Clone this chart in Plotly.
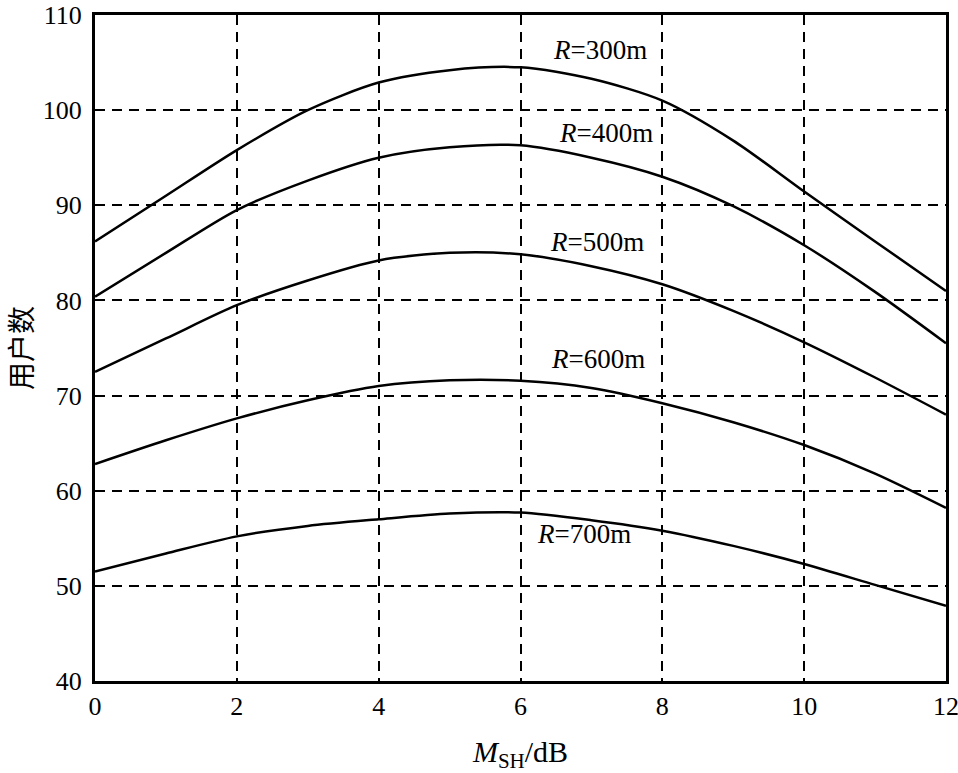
import plotly.graph_objects as go

# Data
x_vals = [0, 1, 2, 3, 4, 5, 6, 7, 8, 9, 10, 11, 12]
r300 = [86.2, 91.0, 95.8, 100.0, 102.9, 104.2, 104.5, 103.3, 101.0, 96.8, 91.45, 86.2, 81.0]
r400 = [80.4, 85.0, 89.5, 92.6, 95.0, 96.1, 96.3, 95.0, 93.0, 89.9, 85.8, 80.9, 75.5]
r500 = [72.5, 76.0, 79.5, 82.1, 84.2, 85.0, 84.85, 83.6, 81.7, 78.9, 75.6, 71.9, 68.0]
r600 = [62.8, 65.3, 67.6, 69.5, 71.0, 71.6, 71.55, 70.8, 69.2, 67.2, 64.8, 61.8, 58.2]
r700 = [51.5, 53.4, 55.2, 56.3, 57.0, 57.6, 57.7, 56.9, 55.8, 54.2, 52.3, 50.1, 47.9]
series = [r300, r400, r500, r600, r700]
labels = ["300", "400", "500", "600", "700"]
label_x = [7.12, 7.21, 7.08, 7.09, 6.9]
label_y = [106.3, 97.65, 86.15, 73.8, 55.4]

x_ticks = [0, 2, 4, 6, 8, 10, 12]
y_ticks = [40, 50, 60, 70, 80, 90, 100, 110]

serif = "Liberation Serif, Times New Roman, serif"

fig = go.Figure()
for ys in series:
    fig.add_trace(go.Scatter(
        x=x_vals, y=ys, mode="lines",
        line=dict(color="black", width=2.5, shape="spline", smoothing=0.8),
        showlegend=False, hoverinfo="skip",
    ))

for lab, lx, ly in zip(labels, label_x, label_y):
    fig.add_annotation(
        x=lx, y=ly, xref="x", yref="y",
        text=f"<i>R</i>={lab}m", showarrow=False,
        font=dict(family=serif, size=27, color="black"),
    )

fig.update_layout(
    width=958, height=773,
    margin=dict(l=95, r=12, t=15, b=92),
    paper_bgcolor="white", plot_bgcolor="white",
    font=dict(family=serif, size=26, color="black"),
)

fig.update_xaxes(
    range=[0, 12], tickvals=x_ticks, ticktext=[str(v) for v in x_ticks],
    showline=True, linewidth=3, linecolor="black", mirror=True,
    showgrid=True, gridcolor="black", gridwidth=2, griddash="10px,7px",
    ticks="", zeroline=False, automargin=False, ticklabeloverflow="allow",
    tickfont=dict(family=serif, size=26, color="black"),
    title=dict(text="<i>M</i><sub>SH</sub>/dB", font=dict(family=serif, size=30, color="black"), standoff=30),
)
fig.update_yaxes(
    range=[40, 110], tickvals=y_ticks, ticktext=[str(v) for v in y_ticks],
    showline=True, linewidth=3, linecolor="black", mirror=True,
    showgrid=True, gridcolor="black", gridwidth=2, griddash="10px,7px",
    ticks="", zeroline=False, automargin=False, ticklabelstandoff=5,
    ticklabeloverflow="allow",
    tickfont=dict(family=serif, size=26, color="black"),
    title=dict(text="用户数", font=dict(family="Noto Sans CJK SC", size=28, color="black"), standoff=4),
)

fig.write_html("out.html", config={"displayModeBar": False},
               post_script="document.body.style.margin='0';")
